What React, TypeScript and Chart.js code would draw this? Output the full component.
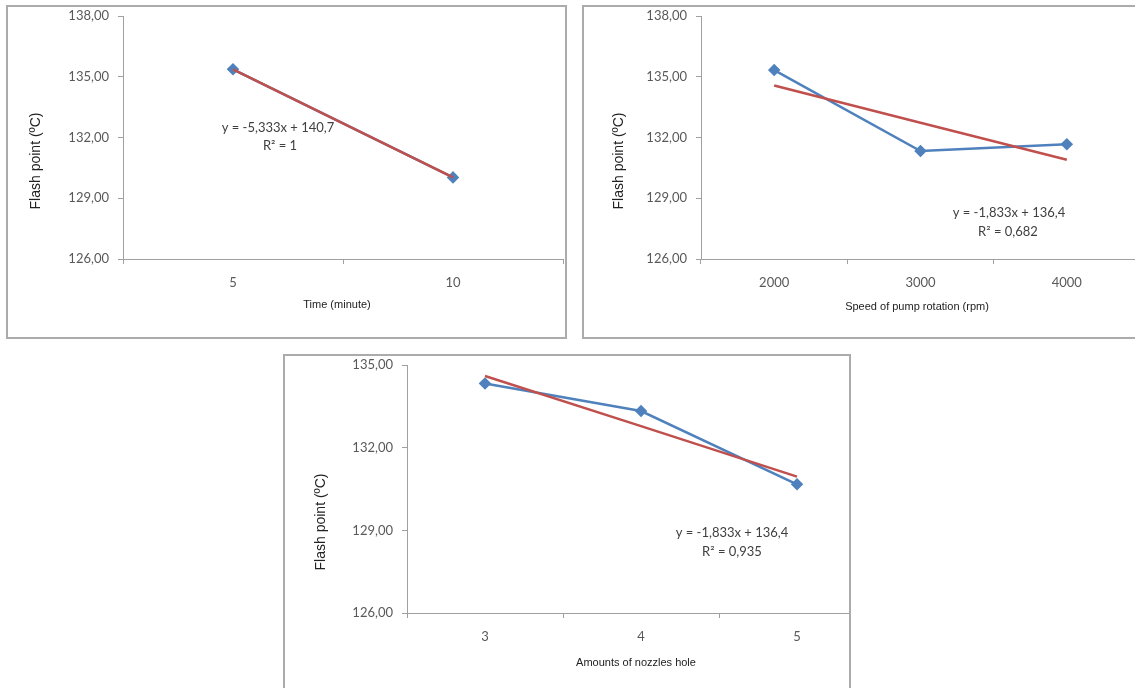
import React, { useEffect, useRef } from 'react';
import { Chart, registerables } from 'chart.js';
Chart.register(...registerables);

// ---- data ----
const timeLabels = ['5', '10'];
const timeValues = [135.37, 130.03];
const timeTrend = [135.37, 130.03];
const timeEquation = ['y = -5,333x + 140,7', 'R\u00B2 = 1'];
const timeTitle = 'Time (minute)';

const pumpLabels = ['2000', '3000', '4000'];
const pumpValues = [135.33, 131.33, 131.67];
const pumpTrend = [134.57, 132.73, 130.9];
const pumpEquation = ['y = -1,833x + 136,4', 'R\u00B2 = 0,682'];
const pumpTitle = 'Speed of pump rotation (rpm)';

const nozzleLabels = ['3', '4', '5'];
const nozzleValues = [134.33, 133.33, 130.67];
const nozzleTrend = [134.6, 132.78, 130.95];
const nozzleEquation = ['y = -1,833x + 136,4', 'R\u00B2 = 0,935'];
const nozzleTitle = 'Amounts of nozzles hole';

const yTitle = 'Flash point (\u00BAC)';
const yMinAll = 126;
const yMaxTop = 138;
const yMaxBottom = 135;
const yStep = 3;

// ---- styles ----
const BLUE = '#4F81BD';
const RED = '#C0504D';
const AXIS = '#a0a0a0';
const TICKFONT = 'Lato, "Open Sans", sans-serif';

type TextItem = { text: string; x: number; y: number; font: string; color: string; rotate?: boolean };

type PanelProps = {
  box: { left: number; top: number; width: number; height: number };
  canvas: { left: number; top: number; width: number; height: number };
  plot: { top: number; right: number; yWidth: number; xHeight: number };
  labels: string[];
  values: number[];
  trend: number[];
  yMax: number;
  texts: TextItem[];
};

function Panel(p: PanelProps) {
  const ref = useRef<HTMLCanvasElement | null>(null);
  useEffect(() => {
    if (!ref.current) return;
    const textPlugin = {
      id: 'texts',
      afterDraw(chart: any) {
        const ctx = chart.ctx;
        ctx.save();
        for (const t of p.texts) {
          ctx.font = t.font;
          ctx.fillStyle = t.color;
          ctx.textAlign = 'center';
          ctx.textBaseline = 'middle';
          if (t.rotate) {
            ctx.save();
            ctx.translate(t.x, t.y);
            ctx.rotate(-Math.PI / 2);
            ctx.fillText(t.text, 0, 0);
            ctx.restore();
          } else {
            ctx.fillText(t.text, t.x, t.y);
          }
        }
        ctx.restore();
      },
    };
    const chart = new Chart(ref.current, {
      type: 'line',
      data: {
        labels: p.labels,
        datasets: [
          {
            data: p.trend,
            borderColor: RED,
            borderWidth: 2.5,
            pointRadius: 0,
            tension: 0,
            order: 0,
          },
          {
            data: p.values,
            borderColor: BLUE,
            backgroundColor: BLUE,
            borderWidth: 2.5,
            pointStyle: 'rectRot',
            pointRadius: 4.5,
            pointBackgroundColor: BLUE,
            pointBorderColor: BLUE,
            tension: 0,
            order: 1,
          },
        ],
      },
      options: {
        animation: false,
        responsive: false,
        events: [],
        layout: { padding: { left: 0, top: p.plot.top, right: p.plot.right, bottom: 0 } },
        plugins: { legend: { display: false }, tooltip: { enabled: false } },
        scales: {
          x: {
            type: 'category',
            offset: true,
            afterFit(scale: any) {
              scale.height = p.plot.xHeight;
            },
            grid: { offset: true, drawOnChartArea: false, tickLength: 5, color: AXIS },
            border: { color: AXIS, width: 1 },
            ticks: { color: '#595959', font: { family: TICKFONT, size: 13 }, padding: 11, maxRotation: 0 },
          },
          y: {
            type: 'linear',
            min: yMinAll,
            max: p.yMax,
            afterFit(scale: any) {
              scale.width = p.plot.yWidth;
              scale.paddingTop = 0;
              scale.paddingBottom = 0;
            },
            grid: { drawOnChartArea: false, tickLength: 5, color: AXIS },
            border: { color: AXIS, width: 1 },
            ticks: {
              stepSize: yStep,
              color: '#595959',
              font: { family: TICKFONT, size: 13 },
              padding: 9,
              callback: (v: any) => Number(v).toFixed(2).replace('.', ','),
            },
          },
        },
      },
      plugins: [textPlugin],
    } as any);
    return () => chart.destroy();
  }, []);
  const bw = 2;
  return (
    <div
      style={{
        position: 'absolute',
        left: p.box.left,
        top: p.box.top,
        width: p.box.width,
        height: p.box.height,
        boxSizing: 'border-box',
        border: `${bw}px solid #ababab`,
        overflow: 'hidden',
        background: '#fff',
      }}
    >
      <canvas
        ref={ref}
        width={p.canvas.width}
        height={p.canvas.height}
        style={{
          position: 'absolute',
          left: p.canvas.left - p.box.left - bw,
          top: p.canvas.top - p.box.top - bw,
          width: p.canvas.width,
          height: p.canvas.height,
        }}
      />
    </div>
  );
}

const TITLE_FONT = '14px "Liberation Sans", Arial, sans-serif';
const XTITLE_FONT = '11px "Liberation Sans", Arial, sans-serif';
const EQ_FONT = '13px Lato, "Open Sans", sans-serif';
const TXT = '#222222';
const EQ = '#404040';

export default function App() {
  return (
    <div
      style={{
        position: 'fixed',
        left: 0,
        top: 0,
        width: 1135,
        height: 688,
        overflow: 'hidden',
        background: '#fff',
      }}
    >
      <Panel
        box={{ left: 6, top: 5, width: 561, height: 334 }}
        canvas={{ left: 8, top: 7, width: 562, height: 330 }}
        plot={{ top: 9, right: 1, yWidth: 115, xHeight: 78 }}
        labels={timeLabels}
        values={timeValues}
        trend={timeTrend}
        yMax={yMaxTop}
        texts={[
          { text: yTitle, x: 28, y: 154, font: TITLE_FONT, color: TXT, rotate: true },
          { text: timeTitle, x: 329, y: 298, font: XTITLE_FONT, color: TXT },
          { text: timeEquation[0], x: 270, y: 121, font: EQ_FONT, color: EQ },
          { text: timeEquation[1], x: 272, y: 139, font: EQ_FONT, color: EQ },
        ]}
      />
      <Panel
        box={{ left: 582, top: 5, width: 600, height: 334 }}
        canvas={{ left: 584, top: 7, width: 570, height: 330 }}
        plot={{ top: 9, right: 14, yWidth: 117, xHeight: 78 }}
        labels={pumpLabels}
        values={pumpValues}
        trend={pumpTrend}
        yMax={yMaxTop}
        texts={[
          { text: yTitle, x: 35, y: 154, font: TITLE_FONT, color: TXT, rotate: true },
          { text: pumpTitle, x: 333, y: 300, font: XTITLE_FONT, color: TXT },
          { text: pumpEquation[0], x: 425, y: 206, font: EQ_FONT, color: EQ },
          { text: pumpEquation[1], x: 424, y: 225, font: EQ_FONT, color: EQ },
        ]}
      />
      <Panel
        box={{ left: 283, top: 354, width: 568, height: 360 }}
        canvas={{ left: 285, top: 356, width: 600, height: 340 }}
        plot={{ top: 9, right: 10, yWidth: 122, xHeight: 83 }}
        labels={nozzleLabels}
        values={nozzleValues}
        trend={nozzleTrend}
        yMax={yMaxBottom}
        texts={[
          { text: yTitle, x: 36, y: 166, font: TITLE_FONT, color: TXT, rotate: true },
          { text: nozzleTitle, x: 351, y: 307, font: XTITLE_FONT, color: TXT },
          { text: nozzleEquation[0], x: 447, y: 177, font: EQ_FONT, color: EQ },
          { text: nozzleEquation[1], x: 447, y: 196, font: EQ_FONT, color: EQ },
        ]}
      />
    </div>
  );
}
